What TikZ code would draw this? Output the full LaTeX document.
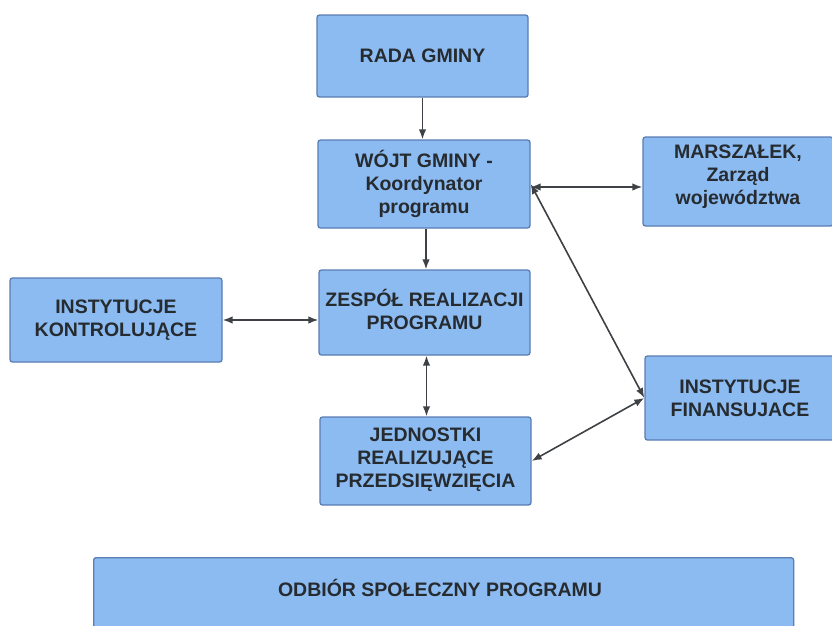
\documentclass[tikz,border=0pt]{standalone}
\usepackage{fontspec}
\setmainfont{Liberation Sans}
\usetikzlibrary{arrows.meta}
\definecolor{boxfill}{HTML}{8CBBF2}
\definecolor{boxline}{HTML}{5A7DB3}
\definecolor{txt}{HTML}{262B30}
\definecolor{arr}{HTML}{3E4145}
\tikzset{
  box/.style={draw=boxline, line width=1.3pt, fill=boxfill, rounded corners=2.5pt,
    align=center, text=txt, font=\fontsize{19.5}{23}\selectfont\bfseries, inner sep=1pt},
  conn/.style={draw=arr, line width=1.6pt, -{Latex[length=10pt,width=7.5pt]}},
  biconn/.style={draw=arr, line width=1.6pt, {Latex[length=10pt,width=7.5pt]}-{Latex[length=10pt,width=7.5pt]}}
}
\begin{document}
\begin{tikzpicture}[x=1pt,y=-1pt]
\useasboundingbox[fill=white] (0,0) rectangle (832,625);
\node[box, minimum width=211pt, minimum height=82pt] (rada) at (422.5,56) {RADA GMINY};
\node[box, minimum width=212pt, minimum height=88pt] (wojt) at (424,184) {WÓJT GMINY -\\Koordynator\\programu};
\node[box, minimum width=190pt, minimum height=89pt] (marsz) at (738,181.5) {MARSZAŁEK,\\Zarząd\\województwa\\[-10pt]\mbox{}};
\node[box, minimum width=212pt, minimum height=84pt] (kontr) at (116,320) {INSTYTUCJE\\KONTROLUJĄCE};
\node[box, minimum width=211pt, minimum height=85pt] (zesp) at (424.5,312.5) {ZESPÓŁ REALIZACJI\\PROGRAMU\\[-17pt]\mbox{}};
\node[box, minimum width=211pt, minimum height=88pt] (jedn) at (425.5,461) {JEDNOSTKI\\REALIZUJĄCE\\PRZEDSIĘWZIĘCIA\\[-16pt]\mbox{}};
\node[box, minimum width=190pt, minimum height=84pt] (finans) at (740,398) {INSTYTUCJE\\FINANSUJACE};
\node[box, minimum width=700pt, minimum height=76pt, anchor=north west] (odbior) at (93,557) {};
\node[text=txt, font=\fontsize{19.5}{23}\selectfont\bfseries] (odbiort) at (440,588) {ODBIÓR SPOŁECZNY PROGRAMU};
\draw[conn] (rada.south) -- (rada.south |- wojt.north);
\draw[conn] ([xshift=2pt]wojt.south) -- ([xshift=2pt]wojt.south |- zesp.north);
\draw[biconn] ([yshift=-3pt]wojt.east) -- ([yshift=-3pt]wojt.east -| marsz.west);
\draw[biconn] (wojt.east) -- (finans.west);
\draw[biconn] (jedn.east) -- (finans.west);
\draw[biconn] (kontr.east) -- (kontr.east -| zesp.west);
\draw[biconn] ([xshift=2pt]zesp.south) -- ([xshift=2pt]zesp.south |- jedn.north);
\end{tikzpicture}
\end{document}
